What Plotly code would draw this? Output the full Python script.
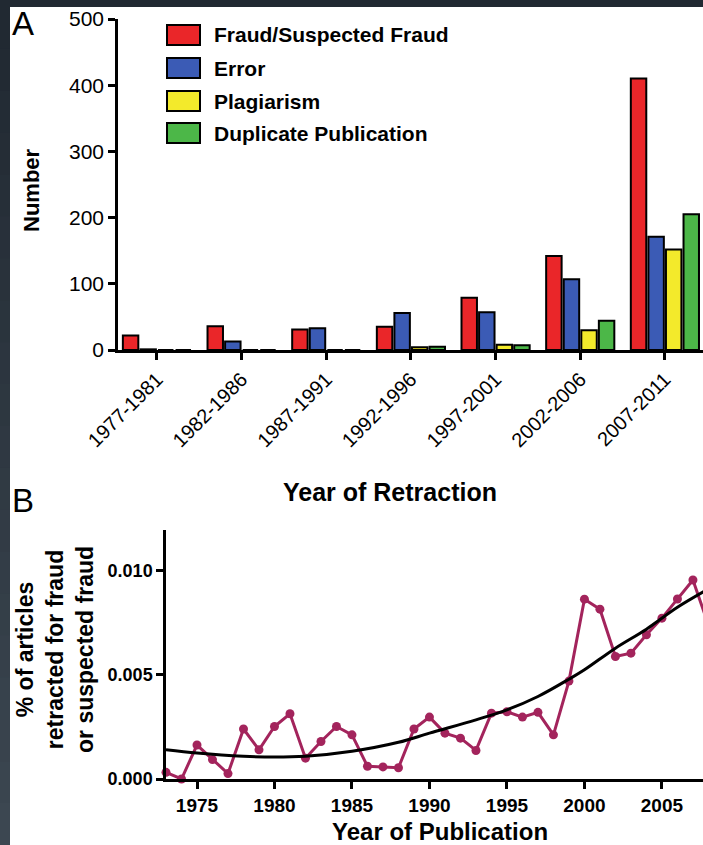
import plotly.graph_objects as go

# ---------------- data ----------------
periods = ["1977-1981", "1982-1986", "1987-1991", "1992-1996",
           "1997-2001", "2002-2006", "2007-2011"]
fraud = [22, 36, 31, 35, 79, 142, 410]
error = [1, 13, 33, 56, 57, 107, 171]
plagiarism = [0, 0, 0, 4, 8, 30, 152]
duplicate = [0, 0, 0, 5, 7, 44, 205]
series_names = ["Fraud/Suspected Fraud", "Error", "Plagiarism", "Duplicate Publication"]

years = list(range(1973, 2009))
pct_fraud = [0.00032, 0.00000, 0.00163, 0.00093, 0.00026, 0.00240, 0.00140, 0.00252,
             0.00313, 0.00100, 0.00180, 0.00252, 0.00212, 0.00061, 0.00058, 0.00054,
             0.00240, 0.00297, 0.00220, 0.00196, 0.00137, 0.00316, 0.00323, 0.00297,
             0.00320, 0.00212, 0.00470, 0.00863, 0.00815, 0.00588, 0.00604, 0.00692,
             0.00772, 0.00864, 0.00955, 0.00740]

fit_years = [1973, 1975, 1978, 1980, 1982, 1985, 1988, 1990, 1993, 1995, 1997,
             1999, 2000, 2002, 2004, 2006, 2008]
fit_vals = [0.00141, 0.00125, 0.00109, 0.00105, 0.00109, 0.00133, 0.00176, 0.00220,
            0.00284, 0.00332, 0.00396, 0.00479, 0.00524, 0.00628, 0.00719, 0.00824,
            0.00912]

a_yticks = [0, 100, 200, 300, 400, 500]
b_xticks = [1975, 1980, 1985, 1990, 1995, 2000, 2005]
b_yticks = [0.0, 0.005, 0.010]
b_yticktext = ["0.000", "0.005", "0.010"]

# ---------------- style ----------------
W, H = 703, 845
colors = ["#ea2629", "#3b5bb5", "#f3ea2b", "#4cb748"]
line_col = "#a3245c"
FONT = "Liberation Sans, Arial, Helvetica, sans-serif"


def px(x):
    return x / W


def py(y):
    return 1 - y / H


fig = go.Figure()

for name, vals, col in zip(series_names, [fraud, error, plagiarism, duplicate], colors):
    fig.add_trace(go.Bar(
        x=periods, y=vals, name=name, xaxis="x", yaxis="y",
        marker=dict(color=col, line=dict(color="black", width=2)),
        showlegend=False,
    ))

fig.add_trace(go.Scatter(
    x=years, y=pct_fraud, xaxis="x2", yaxis="y2", mode="lines+markers",
    line=dict(color=line_col, width=3),
    marker=dict(color=line_col, size=9),
    cliponaxis=False, showlegend=False,
))
fig.add_trace(go.Scatter(
    x=fit_years, y=fit_vals, xaxis="x2", yaxis="y2", mode="lines",
    line=dict(color="black", width=3, shape="spline", smoothing=1.0),
    showlegend=False,
))

axis_common = dict(showline=True, linecolor="black", linewidth=2.5, ticks="outside",
                   ticklen=7, tickwidth=2.5, tickcolor="black", showgrid=False,
                   zeroline=False, automargin=False)

fig.update_layout(
    template="none",
    width=W, height=H, autosize=False,
    margin=dict(l=0, r=0, t=0, b=0, pad=0),
    paper_bgcolor="white", plot_bgcolor="white",
    barmode="group", bargap=0.17, bargroupgap=0.12,
    font=dict(family=FONT, color="black"),
    xaxis=dict(domain=[px(118), 1], anchor="y", type="category",
               range=[-0.46, 6.45], tickangle=-45,
               tickfont=dict(size=20, family=FONT), **axis_common),
    yaxis=dict(domain=[py(350), py(19)], anchor="x", range=[0, 500],
               tickvals=a_yticks, tickfont=dict(size=21, family=FONT), **axis_common),
    xaxis2=dict(domain=[px(166), 1], anchor="y2", range=[1973, 2007.65],
                tickvals=b_xticks,
                tickfont=dict(size=19, family="Liberation Sans", weight="bold"), **axis_common),
    yaxis2=dict(domain=[py(779), py(530)], anchor="x2", range=[0, 0.01195],
                tickvals=b_yticks, ticktext=b_yticktext,
                tickfont=dict(size=18, family="Liberation Sans", weight="bold"), **axis_common),
)

# background frame (dark border of the screenshot)
shapes = []
shapes.append(dict(type="rect", xref="paper", yref="paper", x0=0, x1=1,
                   y0=py(7), y1=1, fillcolor="#212932", line=dict(width=0), layer="below"))
n = 20
for i in range(n):
    t = i / (n - 1)
    r = int(0x21 + t * (0x3c - 0x21))
    g = int(0x29 + t * (0x47 - 0x29))
    b = int(0x32 + t * (0x51 - 0x32))
    shapes.append(dict(type="rect", xref="paper", yref="paper", x0=0, x1=px(10),
                       y0=py(7 + (H - 7) * (i + 1) / n) - 0.001, y1=py(7 + (H - 7) * i / n),
                       fillcolor=f"rgb({r},{g},{b})", line=dict(width=0), layer="below"))

# manual legend with large swatches
ann = []
leg_y = [35, 68, 101, 133]
for name, col, yy in zip(series_names, colors, leg_y):
    shapes.append(dict(type="rect", xref="paper", yref="paper",
                       x0=px(167), x1=px(200), y0=py(yy + 10), y1=py(yy - 10),
                       fillcolor=col, line=dict(color="black", width=2)))
    ann.append(dict(text=name, xref="paper", yref="paper", x=px(212), y=py(yy),
                    xanchor="left", yanchor="middle", showarrow=False,
                    font=dict(size=21, family=FONT, weight="bold")))

# panel letters and axis titles
ann += [
    dict(text="A", x=px(10), y=py(24), xanchor="left", yanchor="middle",
         font=dict(size=33, family=FONT)),
    dict(text="B", x=px(10), y=py(500), xanchor="left", yanchor="middle",
         font=dict(size=33, family=FONT)),
    dict(text="Number", x=px(31), y=py(190), textangle=-90, xanchor="center",
         yanchor="middle", font=dict(size=22, family=FONT, weight="bold")),
    dict(text="Year of Retraction", x=px(390), y=py(492), xanchor="center",
         yanchor="middle", font=dict(size=25, family=FONT, weight="bold")),
    dict(text="Year of Publication", x=px(440), y=py(831), xanchor="center",
         yanchor="middle", font=dict(size=24, family=FONT, weight="bold")),
    dict(text="% of articles<br>retracted for fraud<br>or suspected fraud",
         x=px(55), y=py(650), textangle=-90, xanchor="center", yanchor="middle",
         font=dict(size=23, family=FONT, weight="bold")),
]
for a in ann:
    a.setdefault("xref", "paper")
    a.setdefault("yref", "paper")
    a["showarrow"] = False

fig.update_layout(shapes=shapes, annotations=ann)
fig.write_html(
    "out.html",
    config={"displayModeBar": False},
    post_script="document.body.style.margin='0px';document.body.style.overflow='hidden';",
)
